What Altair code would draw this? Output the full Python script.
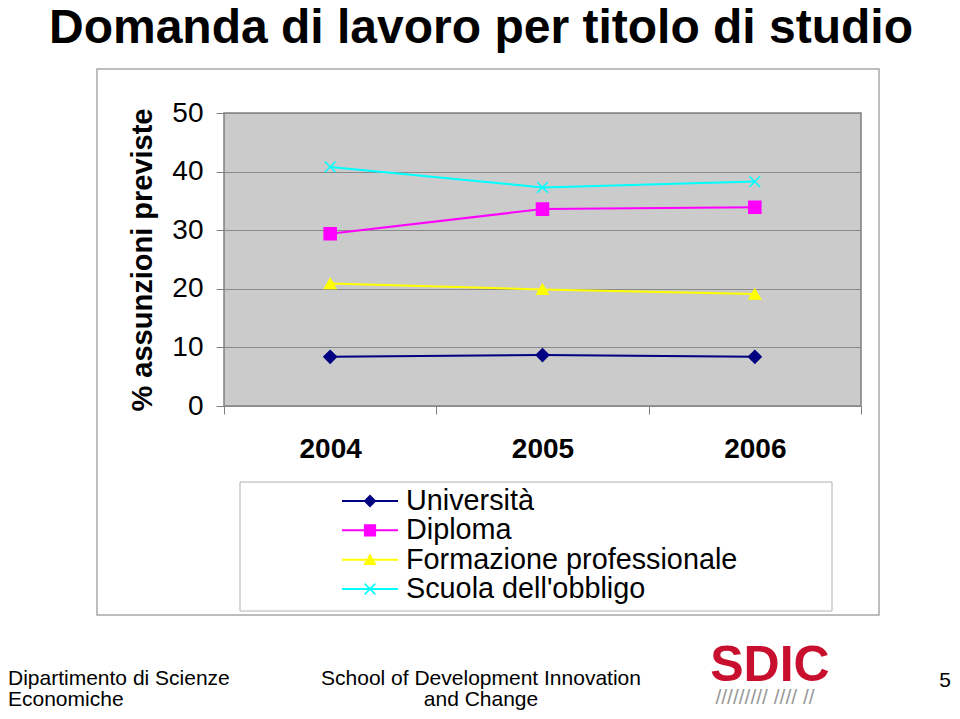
import altair as alt
import pandas as pd

# ---- data ----
years = ["2004", "2005", "2006"]
series = ["Università", "Diploma", "Formazione professionale", "Scuola dell'obbligo"]
universita = [8.4, 8.7, 8.4]
diploma = [29.4, 33.6, 33.9]
formazione = [20.9, 19.9, 19.1]
scuola = [40.8, 37.3, 38.3]
y_ticks = [0, 10, 20, 30, 40, 50]
colors = ["#000080", "#FF00FF", "#FFFF00", "#00FFFF"]
shapes = ["diamond", "square", "triangle-up", "M-1,-1L1,1M-1,1L1,-1"]
marker_sizes = [160, 115, 185, 140]

title_text = "Domanda di lavoro per titolo di studio"
y_title = "% assunzioni previste"
footer_left = ["Dipartimento di Scienze", "Economiche"]
footer_mid = ["School of Development Innovation", "and Change"]
page_no = "5"

values = [universita, diploma, formazione, scuola]
rows = []
for s, vals in zip(series, values):
    for yr, v in zip(years, vals):
        rows.append({"year": yr, "series": s, "value": v})
df = pd.DataFrame(rows)
leg_df = pd.DataFrame({"series": series})

FONT = "Liberation Sans, Arial, sans-serif"

color_scale = alt.Scale(domain=series, range=colors)
shape_scale = alt.Scale(domain=series, range=shapes)
size_scale = alt.Scale(domain=series, range=marker_sizes)
x_scale = alt.Scale(type="band", domain=years, paddingInner=0, paddingOuter=0)
y_scale = alt.Scale(domain=[0, 50], nice=False, zero=True)

x_axis = alt.Axis(
    title=None, labelAngle=0, labelFont=FONT, labelFontSize=28,
    labelFontWeight="bold", labelColor="black", labelBaseline="alphabetic",
    labelPadding=43, tickSize=8, tickColor="#808080", tickBand="extent",
    domain=False, grid=False,
)
y_axis = alt.Axis(
    title=None, values=y_ticks, labelFont=FONT, labelFontSize=28,
    labelColor="black", labelPadding=13, tickSize=8, tickColor="#808080",
    domain=False, grid=True, gridColor="#8A8A8A", gridWidth=1,
)

lines = alt.Chart(df).mark_line(strokeWidth=2).encode(
    x=alt.X("year:O", scale=x_scale, bandPosition=0.5, axis=x_axis),
    y=alt.Y("value:Q", scale=y_scale, axis=y_axis),
    color=alt.Color("series:N", scale=color_scale, legend=None),
)
points = alt.Chart(df).mark_point(filled=True, opacity=1, strokeWidth=1.5).encode(
    x=alt.X("year:O", scale=x_scale, bandPosition=0.5),
    y=alt.Y("value:Q", scale=y_scale),
    color=alt.Color("series:N", scale=color_scale, legend=None),
    stroke=alt.Stroke("series:N", scale=color_scale, legend=None),
    shape=alt.Shape("series:N", scale=shape_scale, legend=None),
    size=alt.Size("series:N", scale=size_scale, legend=None),
)

# ---- manual legend with its own row scale ----
leg_y = alt.Y("series:N", scale=alt.Scale(type="point", domain=series, range=[388, 476], padding=0), axis=None)
leg_rule = alt.Chart(leg_df).mark_rule(strokeWidth=2).encode(
    x=alt.value(118), x2=alt.value(174), y=leg_y,
    color=alt.Color("series:N", scale=color_scale, legend=None),
)
leg_pts = alt.Chart(leg_df).mark_point(filled=True, opacity=1, strokeWidth=1.5).encode(
    x=alt.value(146), y=leg_y,
    color=alt.Color("series:N", scale=color_scale, legend=None),
    stroke=alt.Stroke("series:N", scale=color_scale, legend=None),
    shape=alt.Shape("series:N", scale=shape_scale, legend=None),
    size=alt.value(115),
)
leg_txt = alt.Chart(leg_df).mark_text(
    align="left", baseline="middle", font=FONT, fontSize=28.8, color="black"
).encode(x=alt.value(182), y=leg_y, text="series:N")
legend = alt.layer(leg_rule, leg_pts, leg_txt)

# ---- decorations ----
one = pd.DataFrame({"a": [0]})
frame = alt.Chart(one).mark_rect(fillOpacity=0, stroke="#A8A8A8", strokeWidth=1.5).encode(
    x=alt.value(-127), x2=alt.value(655), y=alt.value(-44), y2=alt.value(502)
)
leg_box = alt.Chart(one).mark_rect(fill="white", stroke="#B0B0B0", strokeWidth=1).encode(
    x=alt.value(16), x2=alt.value(608), y=alt.value(369), y2=alt.value(498)
)


def label(txt, x, y, size, weight="normal", align="center", color="black", angle=0,
          font=FONT, baseline="alphabetic"):
    return alt.Chart(pd.DataFrame({"t": [txt]})).mark_text(
        align=align, baseline=baseline, font=font, fontSize=size, fontWeight=weight,
        color=color, angle=angle,
    ).encode(x=alt.value(x), y=alt.value(y), text="t:N")


texts = [
    label(title_text, 257, -70, 48, "bold"),
    label(y_title, -81, 147, 29, "bold", angle=270, baseline="middle"),
    label(footer_left[0], -216, 572, 21, align="left"),
    label(footer_left[1], -216, 593, 21, align="left"),
    label(footer_mid[0], 257, 572, 21),
    label(footer_mid[1], 257, 593, 21),
    label(page_no, 727, 574, 21, align="right"),
    label("SDIC", 546, 568, 50, "bold", color="#C8102E"),
    label("///////// //// //", 541, 591, 21, color="#9A9A9A"),
]

data_layer = alt.layer(lines, points)
chart = alt.layer(data_layer, legend).resolve_scale(y="independent")
full = alt.layer(frame, leg_box, chart, *texts).properties(
    width=637, height=293,
    padding={"left": 216, "top": 105, "right": 91, "bottom": 305},
    autosize=alt.AutoSizeParams(type="none"),
    background="white",
).configure_view(fill="#CBCBCB", stroke="#808080", strokeWidth=1.5)

full.save("out.html", embed_options={"renderer": "svg", "actions": False})
